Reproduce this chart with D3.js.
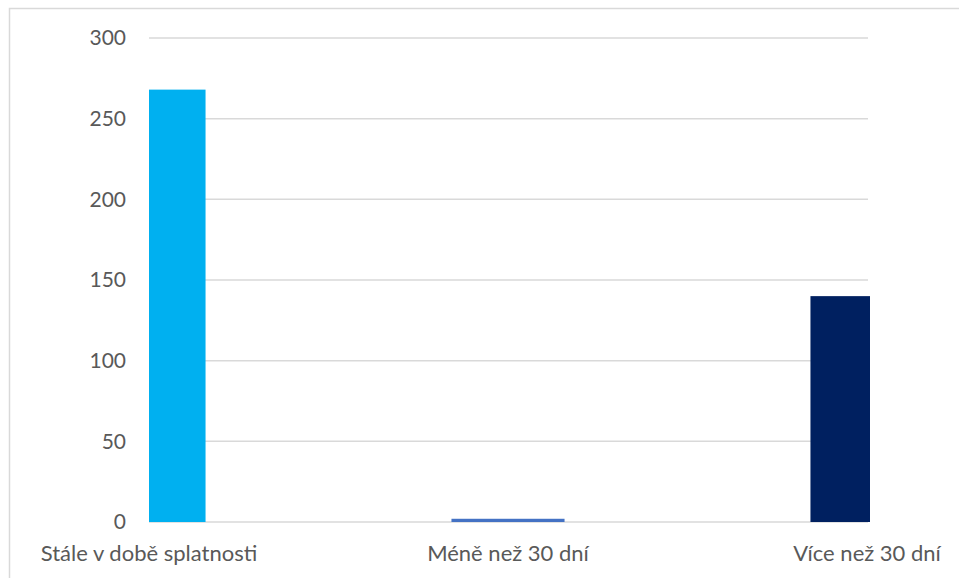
<!DOCTYPE html>
<html><head><meta charset="utf-8">
<script src="https://cdn.jsdelivr.net/npm/d3@7"></script>
<style>
html,body{margin:0;padding:0;background:#fff;}
text{font-family:Lato,"Open Sans",sans-serif;fill:#595959;}
</style></head>
<body>
<svg id="chart" width="959" height="578"></svg>
<script>
const categories = ["Stále v době splatnosti", "Méně než 30 dní", "Více než 30 dní"];
const values = [268, 2, 140];
const colors = ["#00B0F0", "#4472C4", "#002060"];
const yTicks = [0, 50, 100, 150, 200, 250, 300];

const svg = d3.select("#chart");
const W = 959, H = 578;
const plot = {left: 149, right: 868, top: 38, bottom: 522};

svg.append("rect").attr("x", 9.5).attr("y", 8.5).attr("width", W + 10).attr("height", H + 10)
  .attr("fill", "#fff").attr("stroke", "#D9D9D9").attr("stroke-width", 1.5);

const x = d3.scalePoint().domain(categories).range([plot.left, plot.right - 1]);
const y = d3.scaleLinear().domain([0, 300]).range([plot.bottom, plot.top]);
const barW = x.step() * 0.315;

svg.append("defs").append("clipPath").attr("id", "clip")
  .append("rect").attr("x", plot.left).attr("y", 0)
  .attr("width", plot.right + 2 - plot.left).attr("height", H);

// gridlines
svg.append("g").selectAll("line").data(yTicks).join("line")
  .attr("x1", plot.left).attr("x2", plot.right)
  .attr("y1", d => y(d)).attr("y2", d => y(d))
  .attr("stroke", "#D9D9D9").attr("stroke-width", 1.5);

// bars
svg.append("g").attr("clip-path", "url(#clip)").selectAll("rect")
  .data(categories.map((c, i) => ({c, v: values[i], col: colors[i]})))
  .join("rect")
  .attr("x", d => x(d.c) - barW / 2)
  .attr("width", barW)
  .attr("y", d => y(d.v))
  .attr("height", d => y(0) - y(d.v))
  .attr("fill", d => d.col);

// y labels
svg.append("g").selectAll("text").data(yTicks).join("text")
  .attr("x", 126).attr("y", d => y(d)).attr("dy", "0.35em")
  .attr("text-anchor", "end").attr("font-size", 21)
  .text(d => d);

// x labels
svg.append("g").selectAll("text").data(categories).join("text")
  .attr("x", d => x(d)).attr("y", 561)
  .attr("text-anchor", "middle").attr("font-size", 22)
  .text(d => d);
</script>
</body></html>
